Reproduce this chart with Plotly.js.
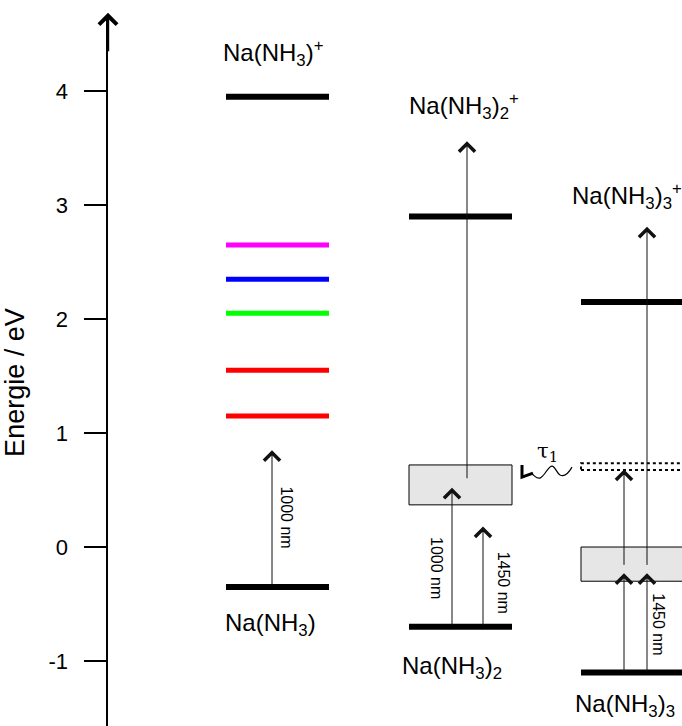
<!DOCTYPE html>
<html>
<head>
<meta charset="utf-8">
<script src="https://cdn.plot.ly/plotly-3.0.1.min.js"></script>
<style>
html,body{margin:0;padding:0;background:#fff;}
#chart{width:682px;height:726px;}
</style>
</head>
<body>
<div id="chart"></div>
<script>
// ---------------- DATA (energies in eV) ----------------
const speciesNeutral = ['Na(NH<sub>3</sub>)', 'Na(NH<sub>3</sub>)<sub>2</sub>', 'Na(NH<sub>3</sub>)<sub>3</sub>'];
const speciesCation  = ['Na(NH<sub>3</sub>)<sup>+</sup>', 'Na(NH<sub>3</sub>)<sub>2</sub><sup>+</sup>', 'Na(NH<sub>3</sub>)<sub>3</sub><sup>+</sup>'];
const groundEnergy = [-0.35, -0.70, -1.10];
const ionEnergy    = [3.95, 2.90, 2.15];
const excitedLevelsNa1 = [1.15, 1.55, 2.05, 2.35, 2.65];
const bandTop    = [null, 0.72, 0.00];
const bandBottom = [null, 0.37, -0.30];
const darkStateTop    = [null, null, 0.735];
const darkStateBottom = [null, null, 0.675];
const arrowColumn = [0, 1, 1, 1, 2, 2, 2, 2];
const arrowFrom   = [-0.35, -0.70, -0.70, 0.59, -1.10, -1.10, -0.17, -0.17];
const arrowTo     = [0.85, 0.52, 0.18, 3.56, -0.23, -0.23, 0.68, 2.81];
const arrowLabel  = ['1000 nm', '1000 nm', '1450 nm', '', '', '1450 nm', '', ''];
const tauLabel = '\u03C4<sub>1</sub>';
const yTickValues = [-1, 0, 1, 2, 3, 4];
const yTickText   = ['-1', '0', '1', '2', '3', '4'];
const yTitle = 'Energie / eV';

// ---------------- LAYOUT / STYLE ----------------
const colCenter = [169.5, 352.5, 524.5];   // horizontal slot of each cluster (x axis units = px)
const halfWidth = 51.5;
const PX_PER_EV = 114;                     // vertical scale of the axis (for pixel-sized decorations)
const excitedColors = ['#ff0000', '#ff0000', '#00ff00', '#0000ff', '#ff00ff'];
const arrowDx = [-5.5, -8.5, 22.5, 6.5, -8.5, 14.5, -8.5, 14.5];
const labelDx = [15, -15.5, 20.7, 0, 0, 11.3, 0, 0];
const labelDy = [0.01, -0.09, -0.05, 0, 0, -0.015, 0, 0];
const FONT = 'Liberation Sans, Arial, Helvetica, sans-serif';

const traces = [];
function level(col, e, color, width) {
  traces.push({
    x: [colCenter[col] - halfWidth, colCenter[col] + halfWidth],
    y: [e, e], mode: 'lines', type: 'scatter',
    line: {color: color, width: width}, hoverinfo: 'skip', showlegend: false
  });
}
for (let i = 0; i < 3; i++) {
  level(i, groundEnergy[i], '#000', 6);
  level(i, ionEnergy[i], '#000', 6);
}
excitedLevelsNa1.forEach((e, i) => level(0, e, excitedColors[i], 5));

const shapes = [];
for (let i = 0; i < 3; i++) {
  if (bandTop[i] !== null) {
    shapes.push({type: 'rect', xref: 'x', yref: 'y', layer: 'below',
      x0: colCenter[i] - halfWidth, x1: colCenter[i] + halfWidth,
      y0: bandBottom[i], y1: bandTop[i],
      fillcolor: '#e6e6e6', line: {color: '#000', width: 1}});
  }
  if (darkStateTop[i] !== null) {
    shapes.push({type: 'rect', xref: 'x', yref: 'y', layer: 'below',
      x0: colCenter[i] - halfWidth, x1: colCenter[i] + halfWidth,
      y0: darkStateBottom[i], y1: darkStateTop[i],
      fillcolor: '#ffffff', line: {color: '#000', width: 2, dash: 'dot'}});
  }
}
// wavy relaxation arrow (tau_1) from the dark state of cluster 3 back to the band of cluster 2
(function(){
  const ax = colCenter[1] + halfWidth;          // right edge of band (anchor)
  const ay = darkStateBottom[2];                // anchor level
  const P = (dx, dyPx) => `${ax + dx},${ay - dyPx / PX_PER_EV}`;  // dyPx: pixels downward
  const wave = `M${P(60,-3)} C${P(56,4)} ${P(52,7)} ${P(48,5)} C${P(44,2)} ${P(43,-4)} ${P(40,-4)}` +
               ` C${P(36,-4)} ${P(33,6)} ${P(28,8)} C${P(25,9)} ${P(23,6)} ${P(20,4)}`;
  shapes.push({type: 'path', xref: 'x', yref: 'y', path: wave, line: {color: '#000', width: 1.2}});
  const head = `M${P(10,-5)} L${P(10,7)} L${P(21,3)}`;
  shapes.push({type: 'path', xref: 'x', yref: 'y', path: head, line: {color: '#000', width: 3}});
})();

const annotations = [];
// axis arrow
annotations.push({xref: 'paper', x: 0, yref: 'paper', y: 1.003, ax: 0, ay: 40,
  showarrow: true, arrowhead: 4, arrowsize: 1.45, arrowwidth: 2.4, arrowcolor: '#000', text: ''});
// axis title
annotations.push({xref: 'paper', x: -0.162, yref: 'y', y: 1.44, text: yTitle, textangle: -90,
  showarrow: false, xanchor: 'center', yanchor: 'middle', font: {family: FONT, size: 27, color: '#000'}});
// transition arrows
for (let i = 0; i < arrowFrom.length; i++) {
  const x = colCenter[arrowColumn[i]] + arrowDx[i];
  annotations.push({xref: 'x', yref: 'y', x: x, y: arrowTo[i], axref: 'x', ayref: 'y',
    ax: x, ay: arrowFrom[i], showarrow: true, arrowhead: 4, arrowsize: 3.1,
    arrowwidth: 1, arrowcolor: '#111', text: '', standoff: 0});
  if (arrowLabel[i]) {
    annotations.push({xref: 'x', yref: 'y', x: x + labelDx[i],
      y: (arrowFrom[i] + arrowTo[i]) / 2 + labelDy[i], text: arrowLabel[i],
      textangle: 90, showarrow: false, font: {family: FONT, size: 16, color: '#000'}});
  }
}
// species labels
const neutralLabelDy = [-0.33, -0.36, -0.29];
const neutralLabelDx = [-7, -9, -8];
const cationLabelDy = [0.38, 0.97, 0.93];
const cationLabelDx = [-4, 3, -60];
for (let i = 0; i < 3; i++) {
  annotations.push({xref: 'x', yref: 'y', x: colCenter[i] + neutralLabelDx[i],
    y: groundEnergy[i] + neutralLabelDy[i], text: speciesNeutral[i], showarrow: false,
    xanchor: 'center', yanchor: 'middle', font: {family: FONT, size: 24, color: '#000'}});
  annotations.push({xref: 'x', yref: 'y', x: colCenter[i] + cationLabelDx[i] - (i === 2 ? 3 : 0),
    y: ionEnergy[i] + cationLabelDy[i], text: speciesCation[i], showarrow: false,
    xanchor: i === 2 ? 'left' : 'center', yanchor: 'middle',
    font: {family: FONT, size: 24, color: '#000'}});
}
annotations.push({xref: 'x', yref: 'y', x: colCenter[1] + halfWidth + 35, y: 0.83,
  text: tauLabel, showarrow: false, font: {family: 'DejaVu Serif, serif', size: 21, color: '#000'}});

const layout = {
  width: 682, height: 726,
  margin: {l: 108, r: 0, t: 15, b: 0, pad: 0},
  paper_bgcolor: '#fff', plot_bgcolor: '#fff',
  showlegend: false, hovermode: false,
  xaxis: {range: [0, 574], visible: false, fixedrange: true},
  yaxis: {range: [-1.57, 4.667], showgrid: false, zeroline: false,
    showline: true, linecolor: '#000', linewidth: 2.5,
    ticks: 'outside', ticklen: 22, tickwidth: 2, tickcolor: '#000',
    tickvals: yTickValues, ticktext: yTickText, ticklabelstandoff: 11,
    tickfont: {family: FONT, size: 22, color: '#000'},
    fixedrange: true},
  shapes: shapes, annotations: annotations
};
Plotly.newPlot('chart', traces, layout, {displayModeBar: false, staticPlot: true});
</script>
</body>
</html>
